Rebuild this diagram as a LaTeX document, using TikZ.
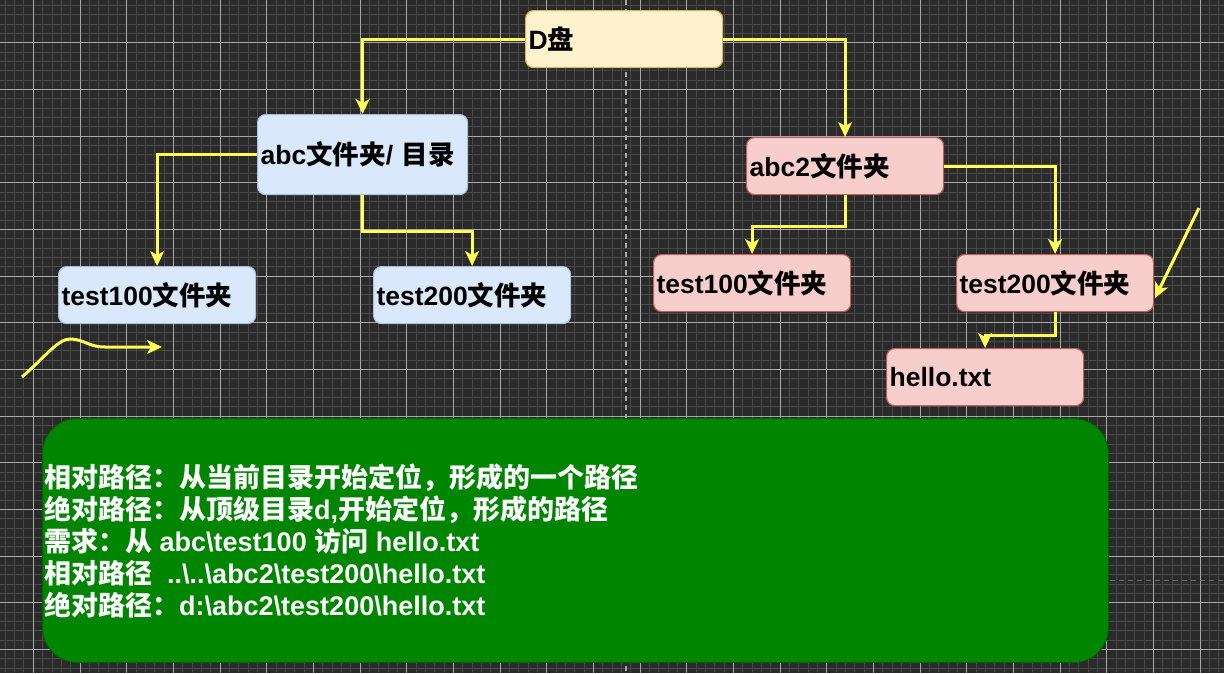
\documentclass[tikz,border=0pt]{standalone}
\usepackage{fontspec}
\setmainfont{Liberation Sans}
\newfontfamily\zhfont{Noto Sans CJK SC}
\newcommand\zhtxt[1]{{\zhfont #1}}
\usetikzlibrary{arrows.meta}
\definecolor{bgdark}{HTML}{2A2A2A}
\definecolor{gridminor}{HTML}{484848}
\definecolor{gridmajor}{HTML}{A8A8A8}
\definecolor{yfill}{HTML}{FFF2CC}
\definecolor{ydraw}{HTML}{D6B656}
\definecolor{bfill}{HTML}{DAE8FC}
\definecolor{bdraw}{HTML}{A9C0E0}
\definecolor{rfill}{HTML}{F8CECC}
\definecolor{rdraw}{HTML}{C0605C}
\definecolor{gfill}{HTML}{008500}
\definecolor{gdraw}{HTML}{006400}
\definecolor{conncol}{HTML}{FFFF55}
\tikzset{
  box/.style={rounded corners=8pt, line width=1.2pt, minimum height=57pt,
    minimum width=197pt, text width=191pt, inner xsep=3pt, inner ysep=0pt,
    align=left, anchor=north west, text=black,
    font=\bfseries\fontsize{26.5}{31}\selectfont},
  ybox/.style={box, fill=yfill, draw=ydraw},
  bbox/.style={box, fill=bfill, draw=bdraw},
  rbox/.style={box, fill=rfill, draw=rdraw},
  conn/.style={draw=conncol, line width=3pt,
    -{Stealth[length=15pt,width=14pt,inset=4pt]}},
}
\begin{document}
\begin{tikzpicture}[x=1pt,y=-1pt]
\useasboundingbox (0,0) rectangle (1224,673);
\fill[bgdark] (0,0) rectangle (1224,673);
% grid
\foreach \i in {0,...,131}{\draw[gridminor, line width=1pt] ({5.333+9.3333*\i},0) -- ({5.333+9.3333*\i},673);}
\foreach \i in {0,...,72}{\draw[gridminor, line width=1pt] (0,{5.333+9.3333*\i}) -- (1224,{5.333+9.3333*\i});}
\foreach \i in {0,...,25}{\draw[gridmajor, line width=1pt] ({33.333+46.6667*\i},0) -- ({33.333+46.6667*\i},673);}
\foreach \i in {0,...,13}{\draw[gridmajor, line width=1pt] (0,{42.667+46.6667*\i}) -- (1224,{42.667+46.6667*\i});}
\draw[gridmajor, line width=1.2pt, dash pattern=on 5pt off 4pt] (626,0) -- (626,673);
\draw[gridmajor!50!bgdark, line width=1pt, dash pattern=on 5pt off 4pt] (1110,580) -- (1224,580);

% nodes
\node[ybox] (d) at (525,10) {D\zhtxt{盘}};
\node[bbox, minimum width=210pt, text width=204pt, minimum height=80pt] (abc) at (257,114) {abc\zhtxt{文件夹}/ \zhtxt{目录}};
\node[bbox] (t100l) at (58,266) {test100\zhtxt{文件夹}};
\node[bbox] (t200l) at (373,266) {test200\zhtxt{文件夹}};
\node[rbox] (abc2) at (746,137) {abc2\zhtxt{文件夹}};
\node[rbox] (t100r) at (653,254) {test100\zhtxt{文件夹}};
\node[rbox] (t200r) at (956,254) {test200\zhtxt{文件夹}};
\node[rbox] (hello) at (886,348) {hello.txt};

% connectors
\draw[conn] (d.west) -| (abc.north);
\draw[conn] (d.east) -| (abc2.north);
\draw[conn] (abc.west) -| (t100l.north);
\draw[conn] (abc.south) -- ++(0,36) -| (t200l.north);
\draw[conn] (abc2.south) -- ++(0,31) -| (t100r.north);
\draw[conn] (abc2.east) -| (t200r.north);
\draw[conn] (t200r.south) -- ++(0,23) -| (hello.north);

% free arrows
\coordinate (fa1) at (1199,208);
\coordinate (fa2) at (1155,298);
\draw[conn] (fa1) -- (fa2);
\coordinate (cv1) at (22,377);
\coordinate (cv2) at (162,347);
\draw[conn] (cv1) .. controls (45,357) and (58,339) .. (70,339) .. controls (84,339) and (88,347) .. (105,347) -- (cv2);

% green box
\node[fill=gfill, draw=gdraw, line width=1pt, rounded corners=35pt, anchor=north west,
  minimum width=1066pt, minimum height=244pt, inner sep=0pt] (note) at (42,418) {};
\node[anchor=west, align=left, text=white, inner sep=0pt,
  font=\bfseries\fontsize{27}{32}\selectfont] (notetext) at (44,541) {%
\zhtxt{相对路径：从当前目录开始定位，形成的一个路径}\\
\zhtxt{绝对路径：从顶级目录}d,\zhtxt{开始定位，形成的路径}\\
\zhtxt{需求：从} abc\textbackslash test100 \zhtxt{访问} hello.txt\\
\zhtxt{相对路径}\ \ ..\textbackslash..\textbackslash abc2\textbackslash test200\textbackslash hello.txt\\
\zhtxt{绝对路径：}d:\textbackslash abc2\textbackslash test200\textbackslash hello.txt};
\end{tikzpicture}
\end{document}
